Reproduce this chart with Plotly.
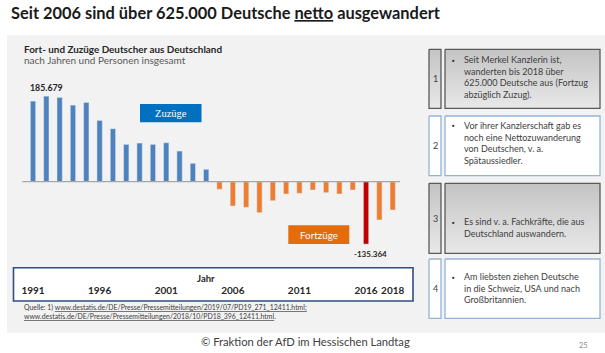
import plotly.graph_objects as go

# ---------------- data ----------------
years = list(range(1991, 2019))
net_migration = [174900, 185679, 182900, 166200, 172000, 133000, 114900, 81000,
                 83900, 81000, 84500, 66500, 39900, 26900, -16500, -52700,
                 -55500, -67200, -41200, -26700, -25200, -18000, -23800,
                 -26700, -18000, -135364, -83000, -61400]
tick_years = [1991, 1996, 2001, 2006, 2011, 2016, 2018]
tick_labels = [str(y) for y in tick_years]

title = 'Seit 2006 sind über 625.000 Deutsche <span style="text-decoration:underline">netto</span> ausgewandert'
chart_title = "Fort- und Zuzüge Deutscher aus Deutschland"
chart_subtitle = "nach Jahren und Personen insgesamt"
box_texts = [
    ["Seit Merkel Kanzlerin ist,", "wanderten bis 2018 über",
     "625.000 Deutsche aus (Fortzug", "abzüglich Zuzug)."],
    ["Vor ihrer Kanzlerschaft gab es", "noch eine Nettozuwanderung",
     "von Deutschen, v. a.", "Spätaussiedler."],
    ["Es sind v. a. Fachkräfte, die aus", "Deutschland auswandern."],
    ["Am liebsten ziehen Deutsche", "in die Schweiz, USA und nach",
     "Großbritannien."],
]
source_lines = [
    'Quelle: 1) <span style="text-decoration:underline">www.destatis.de/DE/Presse/Pressemitteilungen/2019/07/PD19_271_12411.html;</span>',
    '<span style="text-decoration:underline">www.destatis.de/DE/Presse/Pressemitteilungen/2018/10/PD18_396_12411.html</span>.',
]
footer = "© Fraktion der AfD im Hessischen Landtag"
page_no = "25"

# ---------------- helpers ----------------
W, H = 605, 353
def px(x): return x / W
def py(y): return 1 - y / H

FONT = "Lato"
TXT = "#404040"

min_val = min(net_migration)
colors = []
for v in net_migration:
    if v == min_val:
        colors.append("#C00000")
    elif v < 0:
        colors.append("#ED7D31")
    else:
        colors.append("#4F81BD")

fig = go.Figure()
fig.add_trace(go.Bar(x=years, y=net_migration, marker_color=colors,
                     width=0.4, hoverinfo="x+y", showlegend=False))

# ---------------- right side boxes ----------------
box_rows = [(49.3, 108.3, "gray"), (116, 175.7, "white"),
            (183.3, 253.3, "gray"), (259, 318.3, "white")]
text_centers = [77.2, 142.9, 227.5, 288.2]

def rect_trace(x0, x1, y0, y1, kind):
    xs = [x0, x1, x1, x0, x0]
    ys = [y0, y0, y1, y1, y0]
    if kind == "gray":
        return go.Scatter(x=xs, y=ys, xaxis="x2", yaxis="y2", mode="lines",
                          fill="toself",
                          fillgradient=dict(type="vertical",
                                            colorscale=[[0, "#e8e8e8"], [1, "#c4c4c4"]]),
                          line=dict(color="#5a5a5a", width=1.3),
                          hoverinfo="skip", showlegend=False)
    return go.Scatter(x=xs, y=ys, xaxis="x2", yaxis="y2", mode="lines",
                      fill="toself", fillcolor="#ffffff",
                      line=dict(color="#95B3D7", width=1.3),
                      hoverinfo="skip", showlegend=False)

for (y0, y1, kind) in box_rows:
    fig.add_trace(rect_trace(429, 441, y0, y1, kind))
    fig.add_trace(rect_trace(445, 600, y0, y1, kind))

annotations = []
def ann(text, x, y, size, color=TXT, xanchor="left", yanchor="middle",
        family=FONT, **kw):
    annotations.append(dict(text=text, x=px(x), y=py(y), xref="paper", yref="paper",
                            xanchor=xanchor, yanchor=yanchor, showarrow=False,
                            font=dict(family=family, size=size, color=color), **kw))

BOX_FS = 9
for i, (lines, yc, (y0, y1, kind)) in enumerate(zip(box_texts, text_centers, box_rows)):
    ann(str(i + 1), 435, (y0 + y1) / 2, 9, xanchor="center")
    first_line = yc - (len(lines) - 1) / 2 * BOX_FS * 1.3
    ann("▪", 453, first_line, 7, color="#262626", xanchor="center")
    ann("<br>".join(lines), 461.5, yc, BOX_FS, align="left")

# ---------------- texts ----------------
ann("<b>" + title + "</b>", 9, 12.5, 16.4, color="#1a1a1a")
ann("<b>" + chart_title + "</b>", 21.5, 48.5, 9.9, color="#262626")
ann(chart_subtitle, 21.5, 60, 10, color="#595959")
for t, yy in zip(source_lines, [307.5, 316]):
    ann(t, 21.5, yy, 6.9, color="#404040")
ann(footer, 305, 341.5, 11.2, xanchor="center")
ann(page_no, 583, 345.5, 7.5, color="#8c8c8c", xanchor="center")
ann("<b>Jahr</b>", 206, 278.8, 9.5, color="#262626", xanchor="center")

# legend-like boxes
ann("Zuzüge", 171, 113.2, 10.5, color="#ffffff", xanchor="center",
    family="Liberation Serif")
ann("Fortzüge", 318.8, 234.7, 9.8, color="#ffffff", xanchor="center")

# value labels
imax = net_migration.index(max(net_migration))
imin = net_migration.index(min_val)
annotations.append(dict(text="<b>" + f"{max(net_migration):,}".replace(",", ".") + "</b>",
                        x=years[imax], y=net_migration[imax], xref="x", yref="y",
                        xanchor="center", yanchor="bottom", yshift=1, showarrow=False,
                        font=dict(family=FONT, size=8.8, color="#262626")))
annotations.append(dict(text="<b>" + f"{min_val:,}".replace(",", ".") + "</b>",
                        x=years[imin], y=min_val, xref="x", yref="y",
                        xanchor="center", yanchor="top", xshift=4, yshift=-3,
                        showarrow=False,
                        font=dict(family=FONT, size=8, color="#262626")))

shapes = [
    # grey panel
    dict(type="rect", xref="paper", yref="paper", x0=px(7), x1=px(605),
         y0=py(333), y1=py(35), fillcolor="#F2F2F2", line=dict(width=0), layer="below"),
    # year axis box
    dict(type="rect", xref="paper", yref="paper", x0=px(13.5), x1=px(413),
         y0=py(301), y1=py(267.7), fillcolor="#ffffff",
         line=dict(color="#2F4E7E", width=1.6), layer="below"),
    # Zuzüge box
    dict(type="rect", xref="paper", yref="paper", x0=px(140), x1=px(201.5),
         y0=py(122.3), y1=py(104), fillcolor="#0070C0", line=dict(width=0)),
    # Fortzüge box
    dict(type="rect", xref="paper", yref="paper", x0=px(288.3), x1=px(349.3),
         y0=py(244), y1=py(225.3), fillcolor="#E46C0A", line=dict(width=0)),
    # baseline
    dict(type="line", xref="x", yref="y", x0=years[0] - 0.8, x1=years[-1] + 0.55,
         y0=0, y1=0, line=dict(color="#A6A6A6", width=1.3)),
]

# axis mapping: baseline at y=181.7 px, 2170 units per px
base_px, upp = 181.7, 2170
top_px, bot_px = 90, 283
y_top = (base_px - top_px) * upp
y_bot = -(bot_px - base_px) * upp
x0_px, x1_px, step = 14, 410, 13.32
x_lo = years[0] - (33 - x0_px) / step
x_hi = years[-1] + (x1_px - 392.7) / step

fig.update_layout(
    width=W, height=H, margin=dict(l=0, r=0, t=0, b=0),
    paper_bgcolor="#ffffff", plot_bgcolor="rgba(0,0,0,0)",
    bargap=0.6,
    xaxis=dict(domain=[px(x0_px), px(x1_px)], range=[x_lo, x_hi],
               tickmode="array", tickvals=tick_years,
               ticktext=["<b>" + t + "</b>" for t in tick_labels],
               tickfont=dict(family=FONT, size=10, color="#262626"),
               showgrid=False, zeroline=False, showline=False, ticks="",
               fixedrange=True),
    yaxis=dict(domain=[py(bot_px), py(top_px)], range=[y_bot, y_top],
               visible=False, fixedrange=True),
    xaxis2=dict(domain=[0, 1], range=[0, W], visible=False, anchor="y2",
                fixedrange=True),
    yaxis2=dict(domain=[0, 1], range=[H, 0], visible=False, anchor="x2",
                fixedrange=True),
    shapes=shapes, annotations=annotations,
)

fig.write_html("out.html")
